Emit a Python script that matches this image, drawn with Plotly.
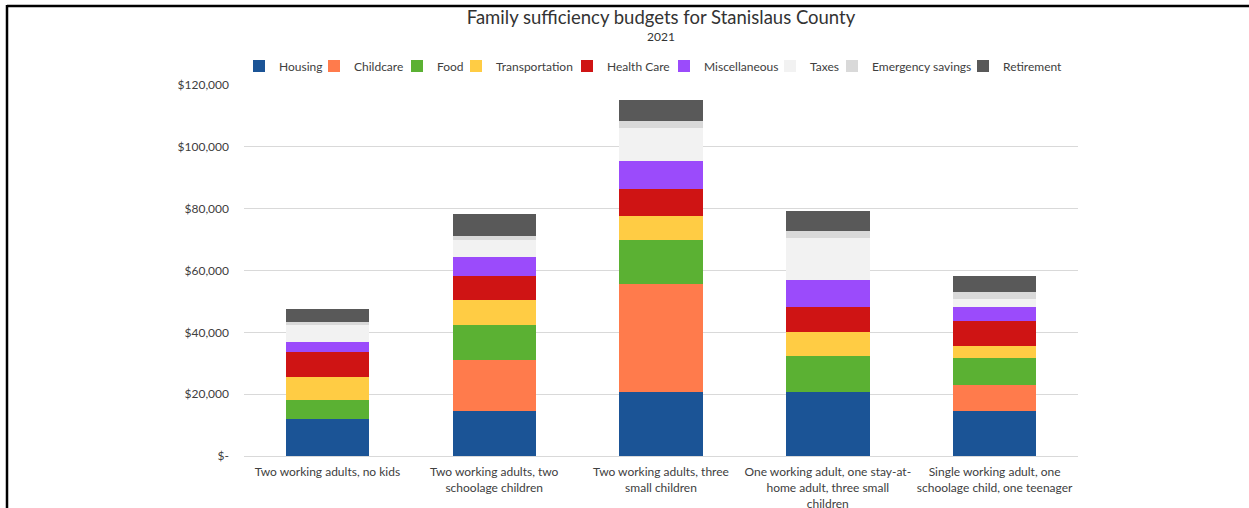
import plotly.graph_objects as go

# ---- data ----
categories = [
    "Two working adults, no kids",
    "Two working adults, two<br>schoolage children",
    "Two working adults, three<br>small children",
    "One working adult, one stay-at-<br>home adult, three small<br>children",
    "Single working adult, one<br>schoolage child, one teenager",
]
series_names = ["Housing", "Childcare", "Food", "Transportation", "Health Care",
                "Miscellaneous", "Taxes", "Emergency savings", "Retirement"]
housing = [11900, 14700, 20600, 20600, 14700]
childcare = [0, 16400, 35000, 0, 8300]
food = [6200, 11300, 14300, 11700, 8800]
transportation = [7600, 7900, 7700, 7700, 3900]
health_care = [8100, 8000, 8800, 8300, 8100]
miscellaneous = [3200, 6000, 9000, 8600, 4300]
taxes = [5500, 5600, 10600, 13700, 2600]
emergency_savings = [800, 1400, 2400, 2300, 2300]
retirement = [4200, 7000, 6600, 6500, 5300]
series_values = [housing, childcare, food, transportation, health_care,
                 miscellaneous, taxes, emergency_savings, retirement]
colors = ["#1B5496", "#FF7B4C", "#5BB133", "#FFCC44", "#CF1414",
          "#9B4BFB", "#F2F2F2", "#D9D9D9", "#595959"]
y_tickvals = [0, 20000, 40000, 60000, 80000, 100000, 120000]
y_ticktext = ["$-", "$20,000", "$40,000", "$60,000", "$80,000", "$100,000", "$120,000"]

# legend text start positions (px) as laid out in the reference
legend_text_px = [277, 352, 435, 494, 605, 702, 808, 870, 1001]

FONT = "Lato, Open Sans, sans-serif"
TXT = "#404040"

W, H = 1249, 508
L, R, T, B = 244, 1249 - 1078, 85, 508 - 456
ph = H - T - B
pw = W - L - R

def px_to_paper_x(px):
    return (px - L) / pw

def px_to_paper_y(py):
    return (H - B - py) / ph

fig = go.Figure()
legend_layouts = {}
for i, (name, vals, col) in enumerate(zip(series_names, series_values, colors)):
    key = "legend" if i == 0 else f"legend{i + 1}"
    fig.add_trace(go.Bar(name=name, x=categories, y=vals, marker_color=col,
                         marker_line_width=0, legend=key))
    legend_layouts[key] = dict(
        orientation="h", x=px_to_paper_x(legend_text_px[i] - 38), xanchor="left",
        y=px_to_paper_y(66), yanchor="middle",
        font=dict(family=FONT, size=12, color=TXT),
        itemwidth=30, bgcolor="rgba(0,0,0,0)")

fig.update_layout(
    width=W, height=H, autosize=False,
    margin=dict(l=L, r=R, t=T, b=B, pad=0, autoexpand=False),
    barmode="stack", bargap=0.5,
    paper_bgcolor="white", plot_bgcolor="white",
    font=dict(family=FONT, size=12, color=TXT),
    title=dict(text="Family sufficiency budgets for Stanislaus County",
               x=0.5 * (L + L + pw) / W, xanchor="center",
               y=1 - 18 / H, yanchor="middle",
               font=dict(family=FONT, size=18.5, color="#333333")),
    showlegend=True,
    **legend_layouts,
)
fig.add_annotation(text="2021", xref="paper", yref="paper", x=0.5,
                   y=px_to_paper_y(36), xanchor="center", yanchor="middle",
                   showarrow=False, font=dict(family=FONT, size=12, color="#333333"))

fig.update_yaxes(range=[0, 120000], tickvals=y_tickvals, ticktext=y_ticktext,
                 showgrid=True, gridcolor="#D9D9D9", gridwidth=1,
                 zeroline=False, showline=False, ticks="",
                 ticklabelstandoff=14, automargin=False,
                 tickfont=dict(family=FONT, size=12, color=TXT))
fig.update_xaxes(showline=True, linecolor="#D9D9D9", linewidth=1, ticks="",
                 tickangle=0, ticklabelstandoff=5, automargin=False,
                 tickfont=dict(family=FONT, size=12, color=TXT))

# frame lines (top and left) as in the reference image
fig.add_shape(type="line", xref="paper", yref="paper",
              x0=px_to_paper_x(7), x1=px_to_paper_x(W + 5),
              y0=px_to_paper_y(6), y1=px_to_paper_y(6),
              line=dict(color="black", width=2.5))
fig.add_shape(type="line", xref="paper", yref="paper",
              x0=px_to_paper_x(7), x1=px_to_paper_x(7),
              y0=px_to_paper_y(5), y1=px_to_paper_y(H + 5),
              line=dict(color="black", width=2.5))

fig.write_html("out.html", config={"displayModeBar": False},
               post_script="document.body.style.margin='0';")
